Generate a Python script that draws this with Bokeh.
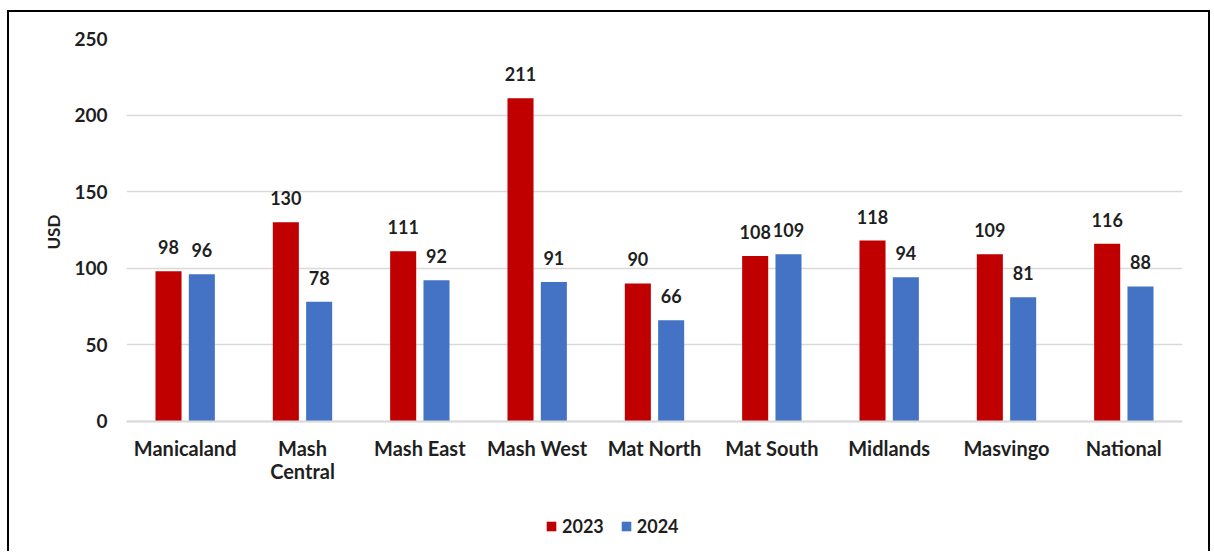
from bokeh.plotting import figure
from bokeh.models import ColumnDataSource, FixedTicker, Legend, LegendItem, Range1d, Title
from bokeh.transform import dodge
from bokeh.core.properties import value
from bokeh.embed import file_html
from bokeh.resources import INLINE

regions = ["Manicaland", "Mash\nCentral", "Mash East", "Mash West", "Mat North",
           "Mat South", "Midlands", "Masvingo", "National"]
vals_2023 = [98, 130, 111, 211, 90, 108, 118, 109, 116]
vals_2024 = [96, 78, 92, 91, 66, 109, 94, 81, 88]
series_names = ["2023", "2024"]
colors = ["#C00000", "#4472C4"]
y_ticks = [0, 50, 100, 150, 200, 250]
y_title = "USD"

FONT = "Lato"
TXT = "#1f1f1f"

src = ColumnDataSource(dict(
    cat=regions,
    v23=vals_2023,
    v24=vals_2024,
    l23=[str(v) for v in vals_2023],
    l24=[str(v) for v in vals_2024],
))

# frame extends below the zero line to leave room for category labels and legend
p = figure(x_range=regions, y_range=Range1d(-82.5, 250), width=1203, height=541,
           output_backend="svg", toolbar_location=None,
           min_border_left=117, min_border_right=30, min_border_top=26,
           min_border_bottom=6,
           styles={"margin-left": "7px", "margin-top": "10px",
                   "border-top": "2px solid black", "border-left": "2px solid black",
                   "border-right": "2px solid black"})

p.outline_line_color = None
p.background_fill_color = "white"
p.border_fill_color = "white"

r1 = p.vbar(x=dodge("cat", -0.142, range=p.x_range), top="v23", width=0.222,
            source=src, fill_color=colors[0], line_color=None)
r2 = p.vbar(x=dodge("cat", 0.142, range=p.x_range), top="v24", width=0.222,
            source=src, fill_color=colors[1], line_color=None)

for key, off in (("23", -0.142), ("24", 0.142)):
    p.text(x=dodge("cat", off, range=p.x_range), y="v" + key, text="l" + key,
           source=src, text_align="center", text_baseline="alphabetic",
           y_offset=-24, text_font=value(FONT), text_font_style="bold",
           text_font_size="18px", text_color=TXT)

p.yaxis.ticker = FixedTicker(ticks=y_ticks)
p.yaxis.axis_line_color = None
p.yaxis.major_tick_line_color = None
p.yaxis.minor_tick_line_color = None
p.yaxis.major_tick_out = 0
p.yaxis.major_label_standoff = 19
p.yaxis.major_label_text_font = FONT
p.yaxis.major_label_text_font_style = "bold"
p.yaxis.major_label_text_font_size = "19px"
p.yaxis.major_label_text_color = TXT

# y-axis title, placed beside the 0..250 span
ytitle = Title(text=y_title, align="left", offset=298, standoff=15,
               text_font=FONT, text_font_style="bold", text_font_size="17px",
               text_color=TXT)
p.add_layout(ytitle, "left")

p.xaxis.fixed_location = 0
p.xaxis.axis_line_color = "#d9d9d9"
p.xaxis.axis_line_width = 2
p.xaxis.major_tick_line_color = None
p.xaxis.minor_tick_line_color = None
p.xaxis.major_tick_out = 0
p.xaxis.major_label_standoff = 15
p.xaxis.major_label_text_font = FONT
p.xaxis.major_label_text_font_style = "bold"
p.xaxis.major_label_text_font_size = "20px"
p.xaxis.major_label_text_line_height = 0.95
p.xaxis.major_label_text_color = TXT

p.xgrid.grid_line_color = None
p.ygrid.grid_line_color = "#d9d9d9"
p.ygrid.grid_line_width = 1.5

legend = Legend(items=[LegendItem(label=series_names[0], renderers=[r1]),
                       LegendItem(label=series_names[1], renderers=[r2])],
                orientation="horizontal", location=(419, 10),
                glyph_width=12, glyph_height=12, label_standoff=5, spacing=16,
                padding=0, margin=0, border_line_color=None,
                background_fill_alpha=0,
                label_text_font=FONT, label_text_font_style="bold",
                label_text_font_size="18px", label_text_color=TXT)
p.add_layout(legend, "center")

open("out.html", "w").write(file_html(p, INLINE))
